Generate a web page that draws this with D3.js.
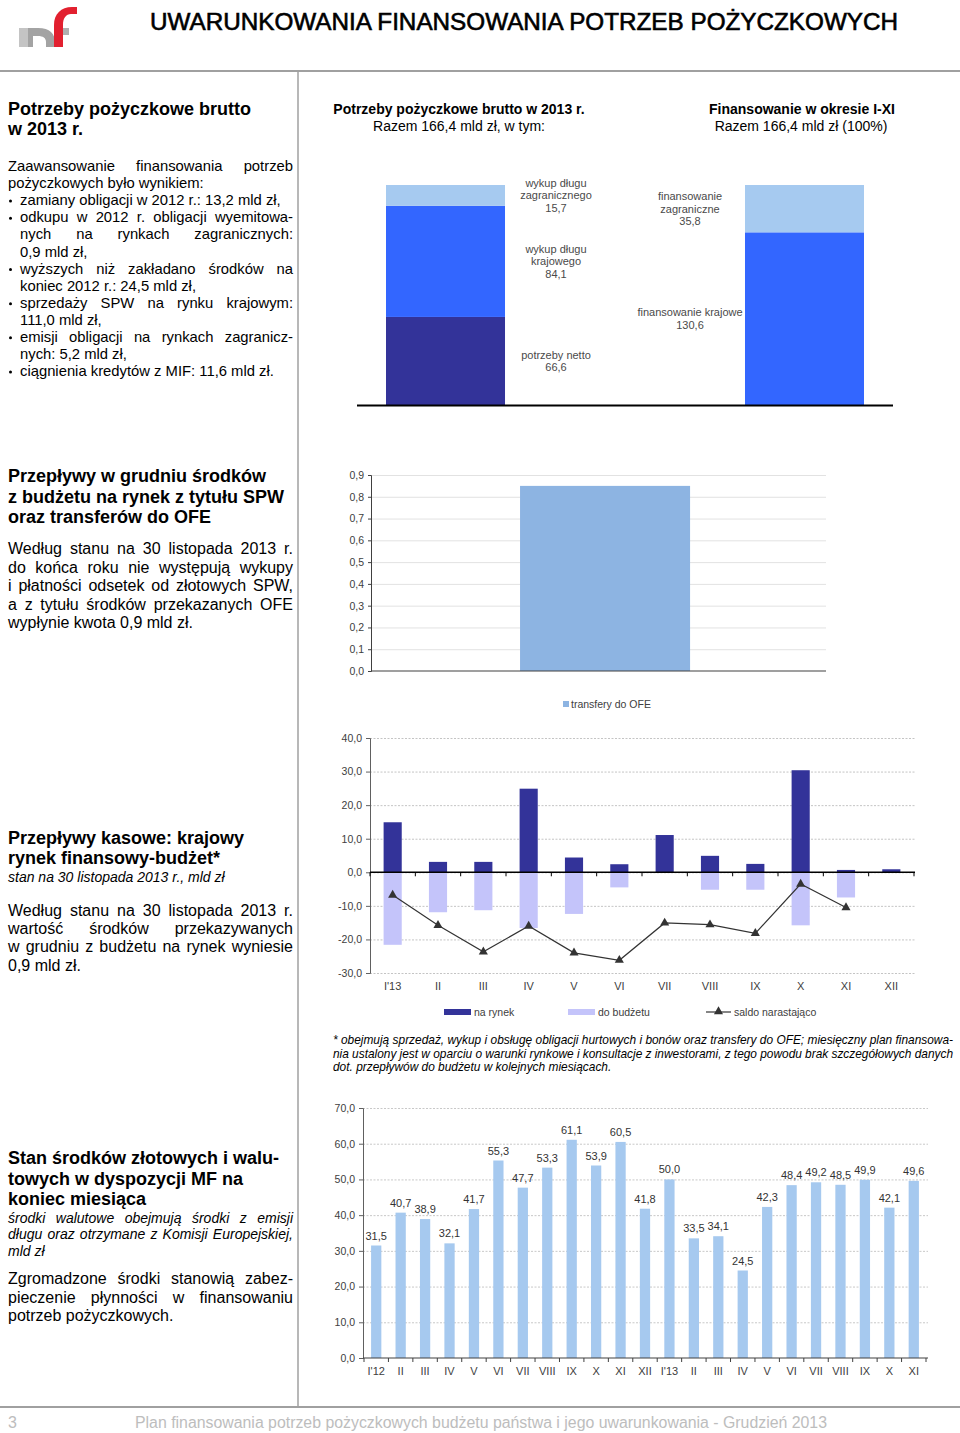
<!DOCTYPE html>
<html><head><meta charset="utf-8">
<script src="https://cdn.jsdelivr.net/npm/d3@7"></script>
<style>
html,body{margin:0;padding:0;background:#fff;}
svg{display:block;font-family:"Liberation Sans",Arial,sans-serif;}
</style></head>
<body>
<svg id="page" width="960" height="1433"></svg>
<script>
// ---------- DATA ----------
const needsCategories = ["potrzeby netto", "wykup długu krajowego", "wykup długu zagranicznego"];
const needsValues = [66.6, 84.1, 15.7];
const needsLabelLines = [["potrzeby netto"], ["wykup długu", "krajowego"], ["wykup długu", "zagranicznego"]];
const fundingCategories = ["finansowanie krajowe", "finansowanie zagraniczne"];
const fundingValues = [130.6, 35.8];
const fundingLabelLines = [["finansowanie krajowe"], ["finansowanie", "zagraniczne"]];

const ofeCategories = ["XII"];
const ofeValues = [0.85];
const ofeTicks = [0, 0.1, 0.2, 0.3, 0.4, 0.5, 0.6, 0.7, 0.8, 0.9];

const flowMonths = ["I'13", "II", "III", "IV", "V", "VI", "VII", "VIII", "IX", "X", "XI", "XII"];
const naRynek = [14.9, 3.1, 3.1, 24.9, 4.4, 2.4, 11.1, 4.9, 2.5, 30.4, 0.7, 0.9];
const doBudzetu = [-21.6, -11.9, -11.3, -16.6, -12.4, -4.5, 0, -5.2, -5.2, -15.8, -7.5, 0];
const saldo = [-6.8, -15.8, -23.7, -16.0, -24.0, -26.2, -15.1, -15.6, -18.2, -3.5, -10.5, null];
const flowTicks = [-30, -20, -10, 0, 10, 20, 30, 40];

const cashMonths = ["I'12", "II", "III", "IV", "V", "VI", "VII", "VIII", "IX", "X", "XI", "XII",
                    "I'13", "II", "III", "IV", "V", "VI", "VII", "VIII", "IX", "X", "XI"];
const cashValues = [31.5, 40.7, 38.9, 32.1, 41.7, 55.3, 47.7, 53.3, 61.1, 53.9, 60.5, 41.8,
                    50.0, 33.5, 34.1, 24.5, 42.3, 48.4, 49.2, 48.5, 49.9, 42.1, 49.6];
const cashTicks = [0, 10, 20, 30, 40, 50, 60, 70];

// ---------- TEXT ----------
const block1 = [
  {t: "Zaawansowanie finansowania potrzeb", j: 1},
  {t: "pożyczkowych było wynikiem:"},
  {t: "zamiany obligacji w 2012 r.: 13,2 mld zł,", b: 1, i: 1},
  {t: "odkupu w 2012 r. obligacji wyemitowa-", b: 1, i: 1, j: 1},
  {t: "nych na rynkach zagranicznych:", i: 1, j: 1},
  {t: "0,9 mld zł,", i: 1},
  {t: "wyższych niż zakładano środków na", b: 1, i: 1, j: 1},
  {t: "koniec 2012 r.: 24,5 mld zł,", i: 1},
  {t: "sprzedaży SPW na rynku krajowym:", b: 1, i: 1, j: 1},
  {t: "111,0 mld zł,", i: 1},
  {t: "emisji obligacji na rynkach zagranicz-", b: 1, i: 1, j: 1},
  {t: "nych: 5,2 mld zł,", i: 1},
  {t: "ciągnienia kredytów z MIF: 11,6 mld zł.", b: 1, i: 1}
];
const block2 = [
  {t: "Według stanu na 30 listopada 2013 r.", j: 1},
  {t: "do końca roku nie występują wykupy", j: 1},
  {t: "i płatności odsetek od złotowych SPW,", j: 1},
  {t: "a z tytułu środków przekazanych OFE", j: 1},
  {t: "wypłynie kwota 0,9 mld zł."}
];
const block3 = [
  {t: "Według  stanu na 30 listopada 2013 r.", j: 1},
  {t: "wartość środków przekazywanych", j: 1},
  {t: "w grudniu z budżetu na rynek wyniesie", j: 1},
  {t: "0,9 mld zł."}
];
const block4i = [
  {t: "środki walutowe obejmują środki z emisji", j: 1},
  {t: "długu oraz otrzymane z Komisji Europejskiej,", j: 1},
  {t: "mld zł"}
];
const block4 = [
  {t: "Zgromadzone środki stanowią zabez-", j: 1},
  {t: "pieczenie płynności w finansowaniu", j: 1},
  {t: "potrzeb pożyczkowych."}
];
const footnote = [
  {t: "* obejmują sprzedaż, wykup i obsługę obligacji hurtowych i bonów oraz transfery do OFE; miesięczny plan finansowa-", j: 1},
  {t: "nia ustalony jest w oparciu o warunki rynkowe i konsultacje z inwestorami, z tego powodu brak szczegółowych danych", j: 1},
  {t: "dot. przepływów do budżetu w kolejnych miesiącach."}
];

// ---------- HELPERS ----------
const svg = d3.select("#page");
const loc = d3.formatLocale({decimal: ",", thousands: " ", grouping: [3], currency: ["", ""], minus: "-"});
const fmt1 = loc.format(".1f");
const AXC = "#404040";

function drawLines(g, lines, o) {
  lines.forEach((ln, k) => {
    const y = o.y0 + k * o.lh;
    const x0 = ln.i ? o.x0 + (o.indent || 12) : o.x0;
    if (ln.b) g.append("circle").attr("cx", o.x0 + 2.5).attr("cy", y - o.size * 0.28).attr("r", 1.5).attr("fill", "#000");
    const st = t => t.attr("y", y).attr("font-size", o.size).attr("font-weight", o.weight || "normal")
      .attr("font-style", o.style || "normal").attr("fill", o.fill || "#000");
    if (ln.j) {
      const words = ln.t.split(/\s+/);
      const nodes = words.map(w => st(g.append("text")).text(w));
      const widths = nodes.map(n => n.node().getComputedTextLength());
      const gap = (o.x1 - x0 - d3.sum(widths)) / (words.length - 1);
      let x = x0;
      nodes.forEach((n, q) => { n.attr("x", x); x += widths[q] + gap; });
    } else {
      st(g.append("text")).attr("x", x0).text(ln.t);
    }
  });
}
function heading(g, lines, x, y0, lh, size) {
  lines.forEach((t, k) => g.append("text").attr("x", x).attr("y", y0 + k * lh)
    .attr("font-size", size).attr("font-weight", "bold").attr("fill", "#000").text(t));
}

// ---------- PAGE FRAME ----------
const logo = svg.append("g");
logo.append("path").attr("d", "M19,28 L38,28 C50,28 55,34 55,42 L55,47 L46,47 L46,42 C46,38 43,36 38,36 L33,36 L33,47 L19,47 Z").attr("fill", "#a3a3a3");
logo.append("rect").attr("x", 19).attr("y", 28).attr("width", 9).attr("height", 19).attr("fill", "#c4c4c4");
logo.append("rect").attr("x", 63).attr("y", 28).attr("width", 6).attr("height", 7).attr("fill", "#b0b0b0");
logo.append("path").attr("d", "M54,47 L54,25 C54,14 61,7 72,7 L77,7 L77,14 L71,14 C66,14 63,18 63,25 L63,47 Z").attr("fill", "#e2202f");

svg.append("text").attr("x", 150).attr("y", 30).attr("font-size", 24).attr("fill", "#000")
  .attr("stroke", "#000").attr("stroke-width", 0.6)
  .attr("textLength", 748).attr("lengthAdjust", "spacingAndGlyphs")
  .text("UWARUNKOWANIA FINANSOWANIA POTRZEB POŻYCZKOWYCH");

svg.append("line").attr("x1", 0).attr("x2", 960).attr("y1", 71).attr("y2", 71).attr("stroke", "#a0a0a0").attr("stroke-width", 2);
svg.append("line").attr("x1", 298).attr("x2", 298).attr("y1", 72).attr("y2", 1407).attr("stroke", "#a0a0a0").attr("stroke-width", 1.5);
svg.append("line").attr("x1", 0).attr("x2", 960).attr("y1", 1407).attr("y2", 1407).attr("stroke", "#a0a0a0").attr("stroke-width", 2);
svg.append("text").attr("x", 8).attr("y", 1428).attr("font-size", 16).attr("fill", "#bdbdbd").text("3");
svg.append("text").attr("x", 135).attr("y", 1428).attr("font-size", 16).attr("fill", "#bdbdbd")
  .attr("textLength", 692).attr("lengthAdjust", "spacingAndGlyphs")
  .text("Plan finansowania potrzeb pożyczkowych budżetu państwa i jego uwarunkowania - Grudzień 2013");

// ---------- LEFT COLUMN ----------
const L = svg.append("g");
heading(L, ["Potrzeby pożyczkowe brutto", "w 2013 r."], 8, 115, 20, 18);
drawLines(L, block1, {x0: 8, x1: 293, y0: 171, lh: 17.1, size: 14.8});
heading(L, ["Przepływy w grudniu środków", "z budżetu na rynek z tytułu SPW", "oraz transferów do OFE"], 8, 482, 20.5, 18);
drawLines(L, block2, {x0: 8, x1: 293, y0: 554, lh: 18.5, size: 16});
heading(L, ["Przepływy kasowe: krajowy", "rynek finansowy-budżet*"], 8, 844, 20, 18);
L.append("text").attr("x", 8).attr("y", 882).attr("font-size", 14).attr("font-style", "italic").text("stan na 30 listopada 2013 r., mld zł");
drawLines(L, block3, {x0: 8, x1: 293, y0: 916, lh: 18.2, size: 16});
heading(L, ["Stan środków złotowych i walu-", "towych w dyspozycji MF na", "koniec miesiąca"], 8, 1164, 20.5, 18);
drawLines(L, block4i, {x0: 8, x1: 293, y0: 1223, lh: 16.3, size: 14, style: "italic"});
drawLines(L, block4, {x0: 8, x1: 293, y0: 1284, lh: 18.5, size: 16});

// ---------- CHART 1: stacked bars ----------
const c1 = svg.append("g");
c1.append("text").attr("x", 459).attr("y", 114).attr("text-anchor", "middle").attr("font-size", 14).attr("font-weight", "bold").text("Potrzeby pożyczkowe brutto w 2013 r.");
c1.append("text").attr("x", 459).attr("y", 131).attr("text-anchor", "middle").attr("font-size", 14).text("Razem 166,4 mld zł, w tym:");
c1.append("text").attr("x", 802).attr("y", 114).attr("text-anchor", "middle").attr("font-size", 14).attr("font-weight", "bold").text("Finansowanie w okresie I-XI");
c1.append("text").attr("x", 801).attr("y", 131).attr("text-anchor", "middle").attr("font-size", 14).text("Razem 166,4 mld zł (100%)");

const y1 = d3.scaleLinear().domain([0, d3.sum(needsValues)]).range([405, 185]);
const x1 = d3.scaleBand().domain(["needs", "funding"]).range([386, 864]).paddingInner(0.6685);
const needsColors = ["#333399", "#3366ff", "#a6caf0"];
const fundingColors = ["#3366ff", "#a6caf0"];
function stack(vals) { let acc = 0; return vals.map(v => { const s = {y0: acc, y1: acc + v, v}; acc += v; return s; }); }
const needsStack = stack(needsValues), fundStack = stack(fundingValues);
c1.selectAll("rect.n").data(needsStack).join("rect").attr("x", x1("needs")).attr("width", x1.bandwidth())
  .attr("y", d => y1(d.y1)).attr("height", d => y1(d.y0) - y1(d.y1)).attr("fill", (d, i) => needsColors[i]);
c1.selectAll("rect.f").data(fundStack).join("rect").attr("x", x1("funding")).attr("width", x1.bandwidth())
  .attr("y", d => y1(d.y1)).attr("height", d => y1(d.y0) - y1(d.y1)).attr("fill", (d, i) => fundingColors[i]);
c1.append("line").attr("x1", 357).attr("x2", 893).attr("y1", 405.5).attr("y2", 405.5).attr("stroke", "#000").attr("stroke-width", 2);
function segLabels(stk, lines, cx) {
  stk.forEach((s, i) => {
    const ls = lines[i].concat([fmt1(s.v)]);
    const mid = y1((s.y0 + s.y1) / 2);
    const top = mid - (ls.length - 1) * 12.8 / 2 + 4;
    ls.forEach((t, k) => c1.append("text").attr("x", cx).attr("y", top + k * 12.8).attr("text-anchor", "middle")
      .attr("font-size", 11).attr("fill", "#4a4a4a").text(t));
  });
}
segLabels(needsStack, needsLabelLines, x1("needs") + x1.bandwidth() + 51);
segLabels(fundStack, fundingLabelLines, x1("funding") - 55);

// ---------- CHART 2: OFE ----------
const c2 = svg.append("g");
const y2 = d3.scaleLinear().domain([0, 0.9]).range([671, 475]);
const x2 = d3.scaleBand().domain(ofeCategories).range([371, 826]).paddingInner(0.5).paddingOuter(0.419).align(0.523);
c2.append("g").attr("transform", "translate(371,0)")
  .call(d3.axisLeft(y2).tickValues(ofeTicks.slice(1)).tickSize(-455).tickFormat(""))
  .call(g => g.select(".domain").remove())
  .call(g => g.selectAll("line").attr("stroke", "#e2e2e2"));
c2.selectAll("rect").data(ofeValues).join("rect").attr("x", (d, i) => x2(ofeCategories[i])).attr("width", x2.bandwidth())
  .attr("y", d => y2(d)).attr("height", d => y2(0) - y2(d)).attr("fill", "#8db4e2");
c2.append("g").attr("transform", "translate(371,0)")
  .call(d3.axisLeft(y2).tickValues(ofeTicks).tickSize(3).tickPadding(4).tickFormat(fmt1))
  .call(g => g.selectAll("text").attr("font-size", 10.5).attr("fill", AXC).attr("font-family", null))
  .call(g => g.selectAll("line,path").attr("stroke", "#404040"));
c2.append("line").attr("x1", 371).attr("x2", 826).attr("y1", y2(0)).attr("y2", y2(0)).attr("stroke", "#404040").attr("stroke-width", 1.2);
c2.append("rect").attr("x", 563).attr("y", 701).attr("width", 6).attr("height", 6).attr("fill", "#8db4e2");
c2.append("text").attr("x", 571).attr("y", 708).attr("font-size", 10.5).attr("fill", AXC).text("transfery do OFE");

// ---------- CHART 3: cash flows ----------
const c3 = svg.append("g");
const y3 = d3.scaleLinear().domain([-30, 40]).range([973, 738]);
const x3 = d3.scaleBand().domain(d3.range(flowMonths.length)).range([370, 914]).paddingInner(0.6).paddingOuter(0.3);
c3.append("g").attr("transform", "translate(370,0)")
  .call(d3.axisLeft(y3).tickValues(flowTicks).tickSize(-545).tickFormat(""))
  .call(g => g.select(".domain").remove())
  .call(g => g.selectAll("line").attr("stroke", "#c4c4c4").attr("stroke-dasharray", "2,1.5"));
c3.selectAll("rect.r").data(naRynek).join("rect").attr("x", (d, i) => x3(i)).attr("width", x3.bandwidth())
  .attr("y", d => y3(d)).attr("height", d => y3(0) - y3(d)).attr("fill", "#333399");
c3.selectAll("rect.b").data(doBudzetu).join("rect").attr("x", (d, i) => x3(i)).attr("width", x3.bandwidth())
  .attr("y", y3(0)).attr("height", d => y3(d) - y3(0)).attr("fill", "#c4c4fa");
c3.append("g").attr("transform", "translate(370,0)")
  .call(d3.axisLeft(y3).tickValues(flowTicks).tickSize(4).tickPadding(4).tickFormat(fmt1))
  .call(g => g.selectAll("text").attr("font-size", 10.5).attr("fill", AXC).attr("font-family", null))
  .call(g => g.selectAll("line,path").attr("stroke", "#606060"));
const step3 = x3.step(), start3 = x3.range()[0];
c3.append("line").attr("x1", 370).attr("x2", 915).attr("y1", y3(0)).attr("y2", y3(0)).attr("stroke", "#000").attr("stroke-width", 1.5);
c3.selectAll("line.tk").data(d3.range(flowMonths.length + 1)).join("line")
  .attr("x1", i => start3 + i * step3).attr("x2", i => start3 + i * step3)
  .attr("y1", y3(0)).attr("y2", y3(0) + 4).attr("stroke", "#000");
const sPts = saldo.map((v, i) => ({i, v})).filter(d => d.v !== null);
const lineGen = d3.line().x(d => x3(d.i) + x3.bandwidth() / 2).y(d => y3(d.v));
c3.append("path").attr("d", lineGen(sPts)).attr("fill", "none").attr("stroke", "#333").attr("stroke-width", 1.2);
c3.selectAll("path.m").data(sPts).join("path")
  .attr("transform", d => `translate(${x3(d.i) + x3.bandwidth() / 2},${y3(d.v)})`)
  .attr("d", d3.symbol(d3.symbolTriangle, 36)).attr("fill", "#333");
c3.selectAll("text.xl").data(flowMonths).join("text").attr("x", (d, i) => x3(i) + x3.bandwidth() / 2).attr("y", 990)
  .attr("text-anchor", "middle").attr("font-size", 11).attr("fill", AXC).text(d => d);
// legend
c3.append("rect").attr("x", 444).attr("y", 1009).attr("width", 27).attr("height", 6).attr("fill", "#333399");
c3.append("text").attr("x", 474).attr("y", 1016).attr("font-size", 10.5).attr("fill", AXC).text("na rynek");
c3.append("rect").attr("x", 568).attr("y", 1009).attr("width", 27).attr("height", 6).attr("fill", "#c4c4fa");
c3.append("text").attr("x", 598).attr("y", 1016).attr("font-size", 10.5).attr("fill", AXC).text("do budżetu");
c3.append("line").attr("x1", 706).attr("x2", 731).attr("y1", 1012).attr("y2", 1012).attr("stroke", "#333").attr("stroke-width", 1.2);
c3.append("path").attr("transform", "translate(718.5,1011.5)").attr("d", d3.symbol(d3.symbolTriangle, 36)).attr("fill", "#333");
c3.append("text").attr("x", 734).attr("y", 1016).attr("font-size", 10.5).attr("fill", AXC).text("saldo narastająco");

// footnote
drawLines(svg.append("g"), footnote, {x0: 333, x1: 953, y0: 1044, lh: 13.6, size: 11.9, style: "italic"});

// ---------- CHART 4: cash balance ----------
const c4 = svg.append("g");
const y4 = d3.scaleLinear().domain([0, 70]).range([1358, 1108]);
const x4 = d3.scaleBand().domain(d3.range(cashMonths.length)).range([364, 926]).paddingInner(0.58).paddingOuter(0.29);
c4.append("g").attr("transform", "translate(363,0)")
  .call(d3.axisLeft(y4).tickValues(cashTicks.slice(1)).tickSize(-565).tickFormat(""))
  .call(g => g.select(".domain").remove())
  .call(g => g.selectAll("line").attr("stroke", "#c8c8c8").attr("stroke-dasharray", "2,1.5"));
c4.selectAll("rect").data(cashValues).join("rect").attr("x", (d, i) => x4(i)).attr("width", x4.bandwidth())
  .attr("y", d => y4(d)).attr("height", d => y4(0) - y4(d)).attr("fill", "#a6c9ef");
c4.append("g").attr("transform", "translate(363,0)")
  .call(d3.axisLeft(y4).tickValues(cashTicks).tickSize(4).tickPadding(4).tickFormat(fmt1))
  .call(g => g.selectAll("text").attr("font-size", 10.5).attr("fill", AXC).attr("font-family", null))
  .call(g => g.selectAll("line,path").attr("stroke", "#606060"));
const step4 = x4.step(), start4 = x4.range()[0];
c4.append("line").attr("x1", 363).attr("x2", 928).attr("y1", y4(0)).attr("y2", y4(0)).attr("stroke", "#404040").attr("stroke-width", 1.2);
c4.selectAll("line.tk").data(d3.range(cashMonths.length + 1)).join("line")
  .attr("x1", i => start4 + i * step4).attr("x2", i => start4 + i * step4)
  .attr("y1", y4(0)).attr("y2", y4(0) + 4).attr("stroke", "#404040");
c4.selectAll("text.v").data(cashValues).join("text").attr("x", (d, i) => x4(i) + x4.bandwidth() / 2).attr("y", d => y4(d) - 6)
  .attr("text-anchor", "middle").attr("font-size", 11).attr("fill", "#333").text(d => fmt1(d));
c4.selectAll("text.xl").data(cashMonths).join("text").attr("x", (d, i) => x4(i) + x4.bandwidth() / 2).attr("y", 1375)
  .attr("text-anchor", "middle").attr("font-size", 11).attr("fill", AXC).text(d => d);
</script>
</body></html>
